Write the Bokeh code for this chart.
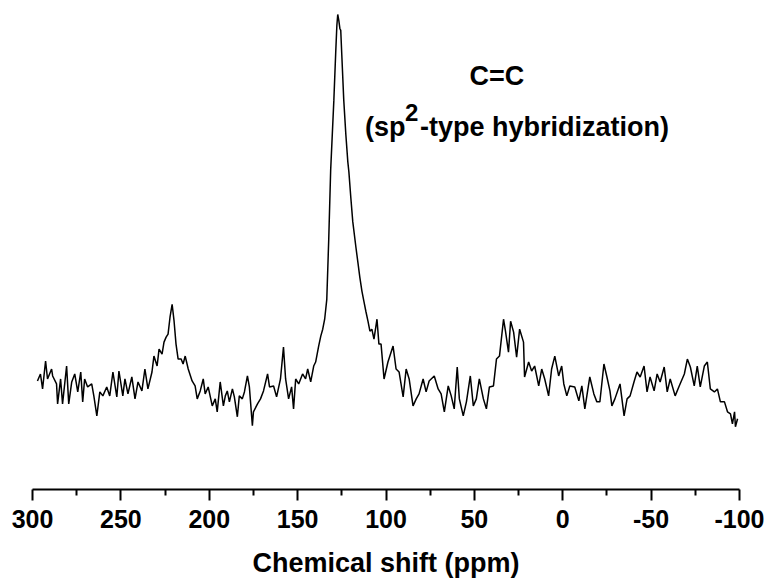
from bokeh.plotting import figure
from bokeh.models import Range1d, FixedTicker, Label, LinearAxis
from bokeh.embed import file_html
from bokeh.resources import INLINE

# Chemical shift (ppm) and intensity (a.u.)
ppm = [297.2, 295.5, 294.3, 292.6, 291.5, 289.2, 288.6, 286.4, 285.8, 284.1,
       283.0, 280.7, 279.5, 277.8, 276.1, 274.4, 272.7, 271.6, 270.5, 268.8,
       266.5, 265.3, 263.6, 261.9, 260.2, 258.0, 256.3, 254.5, 252.3, 251.1,
       248.9, 247.7, 246.0, 243.8, 242.0, 240.3, 238.1, 236.4, 234.7, 232.4,
       231.3, 229.5, 228.4, 226.7, 225.6, 224.4, 223.3, 222.2, 221.0, 219.9,
       218.8, 217.6, 215.9, 214.8, 213.6, 211.9, 209.7, 208.0, 206.8, 205.1,
       203.4, 202.3, 200.6, 198.3, 196.6, 195.5, 193.8, 192.0, 190.9, 189.8,
       188.6, 186.9, 185.8, 184.1, 183.0, 181.3, 180.1, 178.4, 177.3, 175.6,
       175.0, 172.7, 171.0, 169.3, 167.0, 165.9, 163.6, 161.9, 159.7, 158.0,
       156.8, 155.1, 153.4, 152.3, 151.1, 149.4, 147.2, 145.5, 144.3, 142.6,
       140.9, 139.8, 138.1, 136.9, 135.8, 134.7, 133.5, 132.4, 131.3, 129.5,
       128.4, 127.8, 127.3, 126.7, 126.1, 125.6, 125.0, 123.9, 122.7, 121.6,
       121.0, 119.9, 118.8, 117.0, 115.9, 114.8, 113.6, 112.5, 111.4, 110.2,
       109.1, 108.0, 106.8, 105.1, 104.0, 102.8, 101.1, 98.9, 96.0, 94.3,
       92.6, 90.3, 88.6, 86.9, 84.7, 82.9, 81.3, 79.0, 77.3, 75.6,
       72.7, 70.5, 68.8, 67.0, 64.8, 63.1, 61.4, 59.7, 58.5, 56.3,
       54.5, 52.3, 50.6, 48.9, 47.2, 44.9, 43.2, 41.5, 39.2, 37.5,
       35.8, 33.5, 32.4, 30.7, 29.5, 27.8, 26.1, 24.4, 22.2, 21.6,
       19.3, 17.6, 15.9, 13.6, 11.9, 10.2, 8.0, 6.3, 4.5, 2.3,
       0.6, -0.6, -2.3, -4.0, -6.8, -9.1, -10.8, -12.5, -15.3, -17.6,
       -19.3, -21.0, -23.3, -25.0, -26.7, -27.8, -29.5, -32.4, -34.7, -36.4,
       -38.1, -40.3, -42.0, -43.8, -46.0, -47.7, -49.4, -51.7, -53.4, -55.1,
       -57.4, -59.1, -60.8, -63.6, -65.9, -68.8, -70.5, -72.2, -74.4, -76.1,
       -77.8, -80.1, -81.8, -83.5, -85.8, -87.5, -89.2, -91.5, -93.2, -94.9,
       -96.0, -97.2, -97.7, -98.9]

intensity = [110, 117, 102, 130, 112, 122, 115, 107, 87, 112,
             87, 125, 87, 109, 117, 99, 119, 89, 112, 104,
             107, 95, 75, 99, 95, 104, 95, 119, 94, 120,
             95, 112, 97, 114, 92, 109, 100, 122, 102, 119,
             135, 125, 142, 137, 149, 154, 157, 174, 187, 170,
             147, 132, 132, 127, 135, 122, 110, 105, 92, 100,
             112, 97, 104, 85, 92, 79, 109, 85, 95, 100,
             89, 102, 94, 74, 95, 92, 99, 115, 104, 65,
             79, 87, 92, 100, 117, 104, 105, 94, 112, 144,
             112, 92, 104, 82, 112, 107, 117, 112, 122, 109,
             125, 129, 145, 155, 162, 172, 192, 252, 322, 392,
             442, 467, 478, 472, 464, 462, 437, 392, 357, 330,
             320, 294, 270, 244, 229, 214, 200, 190, 180, 170,
             160, 162, 152, 172, 147, 147, 112, 129, 145, 122,
             119, 94, 122, 112, 85, 92, 97, 112, 99, 110,
             115, 102, 97, 79, 105, 95, 82, 124, 92, 75,
             89, 115, 85, 92, 112, 92, 82, 104, 105, 132,
             135, 172, 160, 139, 170, 159, 134, 162, 149, 114,
             129, 120, 125, 105, 122, 112, 95, 122, 135, 115,
             125, 107, 95, 105, 104, 90, 105, 82, 114, 97,
             89, 89, 127, 114, 100, 85, 92, 107, 75, 92,
             95, 109, 119, 114, 125, 99, 114, 100, 117, 109,
             124, 99, 112, 95, 105, 117, 132, 124, 105, 125,
             104, 125, 129, 102, 99, 102, 89, 89, 79, 77,
             67, 79, 64, 72]

tick_values = [300, 250, 200, 150, 100, 50, 0, -50, -100]
tick_labels = ["300", "250", "200", "150", "100", "50", "0", "-50", "-100"]
minor_values = [275, 225, 175, 125, 75, 25, -25, -75]

FONT = "Liberation Sans"

p = figure(width=766, height=580, output_backend="svg", toolbar_location=None,
           x_range=Range1d(300, -100), y_range=Range1d(1, 479),
           x_axis_location=None, y_axis_location=None,
           min_border_left=32, min_border_right=27, min_border_top=13,
           min_border_bottom=89)
p.outline_line_color = None
p.xgrid.visible = False
p.ygrid.visible = False
p.background_fill_color = "white"
p.border_fill_color = "white"

p.line(ppm, intensity, line_color="black", line_width=1.5)

ax = LinearAxis()
ax.ticker = FixedTicker(ticks=tick_values, minor_ticks=minor_values)
ax.major_label_overrides = {v: s for v, s in zip(tick_values, tick_labels)}
ax.axis_line_width = 2
ax.axis_line_color = "black"
ax.major_tick_line_width = 2
ax.major_tick_in = 0
ax.major_tick_out = 11
ax.minor_tick_line_width = 2
ax.minor_tick_in = 0
ax.minor_tick_out = 6
ax.major_label_standoff = 9
ax.major_label_text_font = FONT
ax.major_label_text_font_style = "bold"
ax.major_label_text_font_size = "25px"
ax.major_label_text_color = "black"
ax.axis_label = "Chemical shift (ppm)"
ax.axis_label_text_font = FONT
ax.axis_label_text_font_style = "bold"
ax.axis_label_text_font_size = "27px"
ax.axis_label_text_color = "black"
ax.axis_label_standoff = 17
p.add_layout(ax, "below")

common = dict(text_font=FONT, text_font_style="bold", text_color="black",
              text_baseline="alphabetic")
p.add_layout(Label(x=37.3, y=416, text="C=C", text_align="center",
                   text_font_size="27px", **common))
p.add_layout(Label(x=111.9, y=365, text="(sp", text_align="left",
                   text_font_size="27px", **common))
p.add_layout(Label(x=89.3, y=380, text="2", text_align="left",
                   text_font_size="24px", **common))
p.add_layout(Label(x=80.8, y=365, text="-type hybridization)", text_align="left",
                   text_font_size="27px", **common))

open("out.html", "w").write(file_html(p, INLINE))
